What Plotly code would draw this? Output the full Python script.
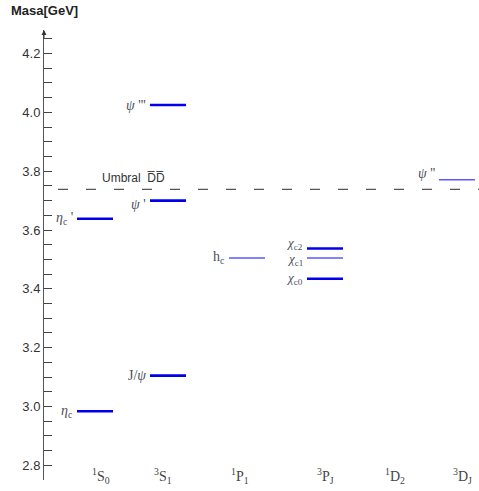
import plotly.graph_objects as go

# ---- data ----
categories = ["<sup>1</sup>S<sub>0</sub>", "<sup>3</sup>S<sub>1</sub>", "<sup>1</sup>P<sub>1</sub>",
              "<sup>3</sup>P<sub>J</sub>", "<sup>1</sup>D<sub>2</sub>", "<sup>3</sup>D<sub>J</sub>"]
state_labels = ["<i>η</i><sub>c</sub>", "<i>η</i><sub>c</sub> '", "J/<i>ψ</i>", "<i>ψ</i> '", "<i>ψ</i> '''",
                "h<sub>c</sub>", "<i>χ</i><sub>c0</sub>", "<i>χ</i><sub>c1</sub>", "<i>χ</i><sub>c2</sub>", "<i>ψ</i> ''"]
state_column = [0, 0, 1, 1, 1, 2, 3, 3, 3, 5]
state_mass = [2.984, 3.638, 3.105, 3.700, 4.025, 3.505, 3.434, 3.505, 3.537, 3.771]
threshold_mass = 3.738
y_ticks = [2.8, 3.0, 3.2, 3.4, 3.6, 3.8, 4.0, 4.2]

# ---- layout / style ----
col_center = [51, 124, 203, 281, 347, 413]
cat_label_x = [57, 119, 196, 281, 351, 418]
half_w = 18
thick = [True, True, True, True, True, False, True, False, True, False]
label_dy = [0, 0, 0, -4, 0, 0, 0, -2, 5, 6]
label_size = [14, 14, 14, 14, 14, 14, 13, 13, 13, 14]
THICK_C = "#0000ee"
THIN_C = "#5a5aff"
TXT_C = "#4a4f5c"

fig = go.Figure()

# threshold line
fig.add_trace(go.Scatter(x=[14, 435], y=[threshold_mass, threshold_mass], mode="lines",
                         line=dict(color="#555555", width=1.3, dash="10px,18px"),
                         hoverinfo="skip", showlegend=False, cliponaxis=False))

for lab, col, m, th, dy, fs in zip(state_labels, state_column, state_mass, thick, label_dy, label_size):
    c = col_center[col]
    fig.add_trace(go.Scatter(x=[c - half_w, c + half_w], y=[m, m], mode="lines",
                             line=dict(color=THICK_C if th else THIN_C, width=2.6 if th else 1.5),
                             hoverinfo="skip", showlegend=False))
    fig.add_annotation(x=c - half_w, y=m, text=lab, showarrow=False, xanchor="right",
                       yanchor="middle", xshift=-2, yshift=dy,
                       font=dict(family="Liberation Serif", size=fs, color=TXT_C))

for cat, lx in zip(categories, cat_label_x):
    fig.add_annotation(x=lx, y=2.762, text=cat, showarrow=False, xanchor="center",
                       yanchor="middle", font=dict(family="Liberation Serif", size=14, color="#444444"))

fig.add_annotation(x=56, y=threshold_mass, text="Umbral  D\u0305D\u0305", showarrow=False,
                   xanchor="left", yanchor="bottom", yshift=2,
                   font=dict(family="Liberation Sans", size=12, color="#333333"))

# axis title
fig.add_annotation(x=0, xref="paper", xanchor="center", xshift=0, y=1, yref="paper", yanchor="bottom", yshift=10,
                   text="<b>Masa[GeV]</b>", showarrow=False,
                   font=dict(family="Liberation Sans", size=13, color="#222222"))
# arrow at top of axis
fig.add_annotation(x=0, xref="paper", y=1, yref="paper", ax=0, ay=10, text="", showarrow=True,
                   arrowhead=2, arrowsize=1, arrowwidth=1, arrowcolor="#333333")

fig.update_layout(
    width=479, height=491,
    margin=dict(l=44, r=0, t=30, b=11, autoexpand=False),
    paper_bgcolor="white", plot_bgcolor="white",
    xaxis=dict(range=[0, 435], visible=False, fixedrange=True, automargin=False),
    yaxis=dict(range=[2.75, 4.28], tickvals=y_ticks, tickformat=".1f", automargin=False,
               ticks="inside", ticklen=8, tickcolor="#444444", tickwidth=1,
               showline=True, linecolor="#555555", linewidth=1, showgrid=False, zeroline=False,
               minor=dict(dtick=0.05, tick0=2.75, ticks="inside", ticklen=8, tickcolor="#444444", showgrid=False),
               tickfont=dict(family="Liberation Sans", size=13, color="#333333")),
    showlegend=False,
)

fig.write_html("out.html", config={"displayModeBar": False},
               post_script="document.body.style.margin='0px';document.body.style.overflow='hidden';")
